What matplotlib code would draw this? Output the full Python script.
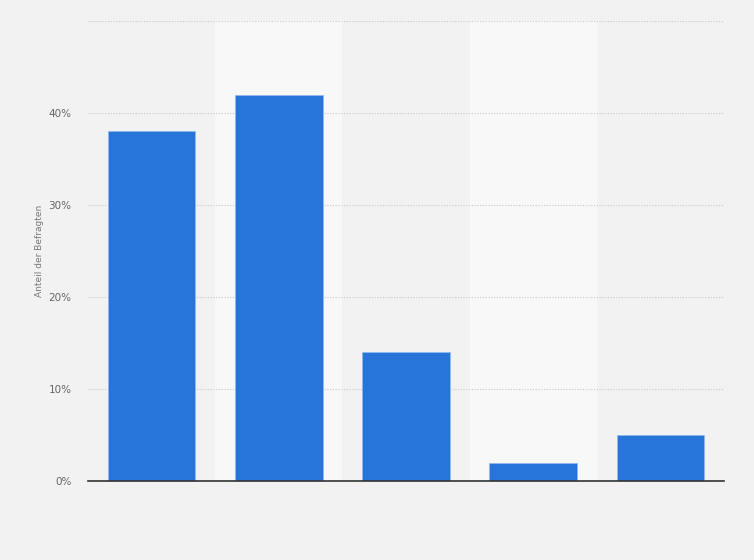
import matplotlib

matplotlib.use("Agg")
import matplotlib.pyplot as plt
from matplotlib.ticker import FuncFormatter

# %% Data
categories = ["A", "B", "C", "D", "E"]
shares = [38, 42, 14, 2, 5]
y_ticks = [0, 10, 20, 30, 40, 50]

# %% Plot
fig = plt.figure(figsize=(7.54, 5.6), dpi=100)
fig.patch.set_facecolor("#f2f2f2")
ax = fig.add_axes([88 / 754, 79 / 560, 636 / 754, 460 / 560])
ax.set_facecolor("#f2f2f2")

x = list(range(len(categories)))

# alternating lighter column bands
for i in x:
    if i % 2 == 1:
        ax.axvspan(i - 0.5, i + 0.5, color="#f8f8f8", zorder=0, lw=0)

ax.bar(x, shares, width=0.69, color="#2775db", edgecolor="#8fb8ee",
       linewidth=0.6, zorder=3)

ax.set_xlim(-0.5, len(categories) - 0.5)
ax.set_ylim(0, 50)
ax.set_yticks(y_ticks)
ax.yaxis.set_major_formatter(
    FuncFormatter(lambda v, _: "" if v >= 50 else f"{v:.0f}%"))
ax.set_xticks([])
ax.tick_params(axis="y", length=0, pad=12, labelsize=7.5, labelcolor="#666666")
ax.grid(axis="y", color="#c8c8c8", linestyle=(0, (1, 1.5)), linewidth=0.8, zorder=1)

for side in ["top", "right", "left"]:
    ax.spines[side].set_visible(False)
ax.spines["bottom"].set_color("#333333")
ax.spines["bottom"].set_linewidth(1.2)
ax.spines["bottom"].set_zorder(4)

ax.set_ylabel("Anteil der Befragten", fontsize=6.5, color="#777777", labelpad=3)

plt.savefig("out.png", dpi=100, facecolor=fig.get_facecolor())
plt.close()
